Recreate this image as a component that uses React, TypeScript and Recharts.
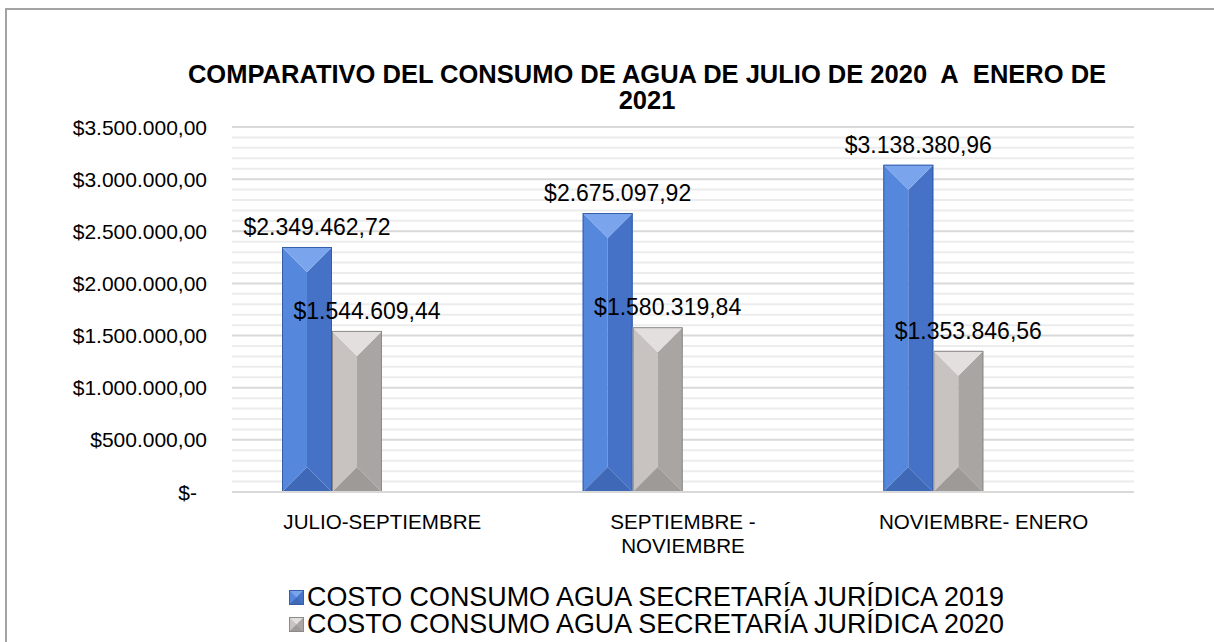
import React from "react";
import {
  BarChart,
  Bar,
  XAxis,
  YAxis,
  CartesianGrid,
  LabelList,
} from "recharts";

const categories = ["JULIO-SEPTIEMBRE", "SEPTIEMBRE -\nNOVIEMBRE", "NOVIEMBRE- ENERO"];
const costo2019 = [2349462.72, 2675097.92, 3138380.96];
const costo2020 = [1544609.44, 1580319.84, 1353846.56];
const seriesNames = [
  "COSTO CONSUMO AGUA SECRETARÍA JURÍDICA 2019",
  "COSTO CONSUMO AGUA SECRETARÍA JURÍDICA 2020",
];
const yMax = 3500000;
const majorTicks = [0, 500000, 1000000, 1500000, 2000000, 2500000, 3000000, 3500000];
const minorTicks = [
  100000, 200000, 300000, 400000, 600000, 700000, 800000, 900000,
  1100000, 1200000, 1300000, 1400000, 1600000, 1700000, 1800000, 1900000,
  2100000, 2200000, 2300000, 2400000, 2600000, 2700000, 2800000, 2900000,
  3100000, 3200000, 3300000, 3400000,
];

const data = categories.map((c, i) => ({ cat: c, s2019: costo2019[i], s2020: costo2020[i] }));

const FONT = "Arial, 'Liberation Sans', sans-serif";

const palettes = {
  blue: { left: "#5587dd", right: "#4571c6", top: "#7aa5ec", bottom: "#3f68b6", edge: "#345ea8" },
  gray: { left: "#c8c3c1", right: "#a9a5a3", top: "#e3dfde", bottom: "#9e9a98", edge: "#8d8987" },
};

function fmtMoney(v: number): string {
  const [int, dec] = v.toFixed(2).split(".");
  return "$" + int.replace(/\B(?=(\d{3})+(?!\d))/g, ".") + "," + dec;
}

// minor gridlines every 100.000, placed with the y axis scale
function minorCoords({ yAxis, offset }: any): number[] {
  const s = yAxis?.scale;
  return minorTicks.map((t) => {
    if (typeof s === "function") return s(t);
    if (s && typeof s.map === "function") return s.map(t);
    return offset.top + offset.height * (1 - t / yMax);
  });
}

function bevelShape(kind: "blue" | "gray") {
  return (props: any) => {
    const { x, y, width, height } = props;
    if (!height || height <= 0) return <g />;
    const p = palettes[kind];
    // bars sit in the left half of the category, like the original
    const x0 = x - width;
    const w = width;
    const d = Math.min(w / 2, height / 2);
    const xm = x0 + w / 2;
    const yb = y + height;
    return (
      <g>
        <polygon points={`${x0},${y} ${xm},${y + d} ${xm},${yb - d} ${x0},${yb}`} fill={p.left} />
        <polygon points={`${x0 + w},${y} ${xm},${y + d} ${xm},${yb - d} ${x0 + w},${yb}`} fill={p.right} />
        <polygon points={`${x0},${y} ${x0 + w},${y} ${xm},${y + d}`} fill={p.top} />
        <polygon points={`${x0},${yb} ${x0 + w},${yb} ${xm},${yb - d}`} fill={p.bottom} />
        <rect x={x0 + 0.5} y={y + 0.5} width={w - 1} height={height - 1} fill="none" stroke={p.edge} strokeWidth={1} />
      </g>
    );
  };
}

const valueLabel = (props: any) => {
  const { x, y, width, value } = props;
  return (
    <text
      x={x - width / 2 + 10}
      y={y - 20}
      textAnchor="middle"
      dominantBaseline="central"
      fontFamily={FONT}
      fontSize={23}
      fill="#000"
    >
      {fmtMoney(Number(value))}
    </text>
  );
};

const XTick = (props: any) => {
  const { x, y, payload } = props;
  const lines = String(payload.value).split("\n");
  return (
    <text x={x} y={y + 29} textAnchor="middle" fontFamily={FONT} fontSize={20.6} fill="#000" dominantBaseline="central">
      {lines.map((l, i) => (
        <tspan key={i} x={x} dy={i === 0 ? 0 : 24}>
          {l}
        </tspan>
      ))}
    </text>
  );
};

const YTick = (props: any) => {
  const { x, y, payload } = props;
  const v = Number(payload.value);
  return (
    <text
      x={v === 0 ? x - 10 : x}
      y={y}
      textAnchor="end"
      dominantBaseline="central"
      fontFamily={FONT}
      fontSize={21}
      fill="#000"
    >
      {v === 0 ? "$-" : fmtMoney(v)}
    </text>
  );
};

function LegendMarker({ kind }: { kind: "blue" | "gray" }) {
  const p = palettes[kind];
  return (
    <svg width={15} height={15} style={{ marginRight: 3 }}>
      <rect x={0} y={0} width={15} height={15} fill={p.left} />
      <polygon points="0,0 15,0 7.5,7.5" fill={p.top} />
      <polygon points="15,0 15,15 7.5,7.5" fill={p.right} />
      <polygon points="0,15 15,15 7.5,7.5" fill={p.bottom} />
      <rect x={0.5} y={0.5} width={14} height={14} fill="none" stroke={p.edge} />
    </svg>
  );
}

export default function App() {
  return (
    <div
      style={{
        position: "fixed",
        left: 0,
        top: 0,
        width: 1214,
        height: 642,
        background: "#fff",
        overflow: "hidden",
        fontFamily: FONT,
      }}
    >
      <div
        style={{
          position: "absolute",
          left: 5,
          top: 8,
          width: 1300,
          height: 700,
          border: "2px solid #a3a3a3",
        }}
      />
      <div
        style={{
          position: "absolute",
          left: 97,
          top: 61,
          width: 1100,
          textAlign: "center",
          fontWeight: "bold",
          fontSize: 25.5,
          lineHeight: "26px",
          color: "#000",
        }}
      >
        COMPARATIVO DEL CONSUMO DE AGUA DE JULIO DE 2020&nbsp; A&nbsp; ENERO DE
        <br />
        2021
      </div>
      <div style={{ position: "absolute", left: 0, top: 0 }}>
        <BarChart
          width={1214}
          height={642}
          data={data}
          margin={{ top: 127, right: 80, bottom: 110, left: 0 }}
          barGap={0}
          barSize={50}
        >
          <CartesianGrid
            vertical={false}
            stroke="#ececec"
            strokeWidth={2}
            horizontalCoordinatesGenerator={minorCoords}
          />
          <CartesianGrid vertical={false} stroke="#d9d9d9" strokeWidth={2} />
          <XAxis
            dataKey="cat"
            height={40}
            tickSize={0}
            tickMargin={0}
            tick={<XTick />}
            axisLine={{ stroke: "#d9d9d9", strokeWidth: 2 }}
            tickLine={false}
            interval={0}
          />
          <YAxis
            width={232}
            domain={[0, yMax]}
            ticks={majorTicks}
            tickSize={0}
            tickMargin={25}
            axisLine={false}
            tickLine={false}
            tick={<YTick />}
          />
          <Bar dataKey="s2019" name={seriesNames[0]} isAnimationActive={false} shape={bevelShape("blue")}>
            <LabelList dataKey="s2019" content={valueLabel} />
          </Bar>
          <Bar dataKey="s2020" name={seriesNames[1]} isAnimationActive={false} shape={bevelShape("gray")}>
            <LabelList dataKey="s2020" content={valueLabel} />
          </Bar>
        </BarChart>
      </div>
      <div style={{ position: "absolute", left: 289, top: 584, fontSize: 26.9, color: "#000" }}>
        {seriesNames.map((n, i) => (
          <div key={n} style={{ display: "flex", alignItems: "center", whiteSpace: "nowrap", height: 27 }}>
            <LegendMarker kind={i === 0 ? "blue" : "gray"} />
            <span style={{ display: "inline-block", lineHeight: "27px", height: 27 }}>{n}</span>
          </div>
        ))}
      </div>
    </div>
  );
}
